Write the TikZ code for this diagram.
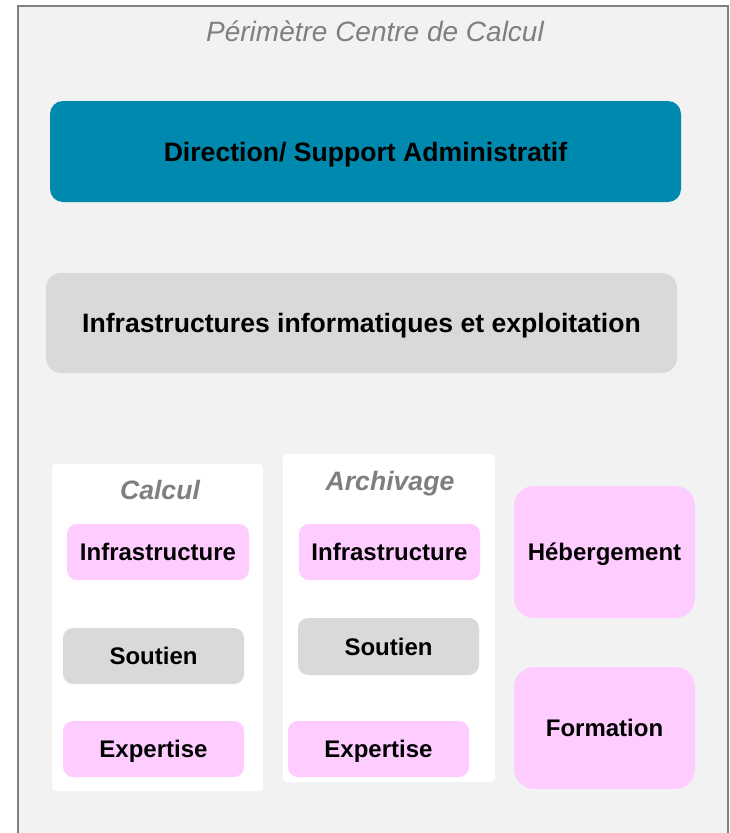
\documentclass[tikz,border=0pt]{standalone}
\usepackage{fontspec}
\setmainfont{Liberation Sans}
\definecolor{bgfill}{HTML}{F2F2F2}
\definecolor{bordergray}{HTML}{808080}
\definecolor{teal}{HTML}{0089AE}
\definecolor{lightgray}{HTML}{D9D9D9}
\definecolor{pinkfill}{HTML}{FFCCFF}
\definecolor{titlegray}{HTML}{7F7F7F}
\begin{document}
\begin{tikzpicture}[x=1pt,y=-1pt,
  base/.style={rectangle, inner sep=0pt, draw=none, text depth=0pt},
  bigbox/.style={base, font=\fontsize{26.6}{30}\selectfont\bfseries, text height=19pt, minimum width=631pt},
  smallbox/.style={base, font=\fontsize{24}{28}\selectfont\bfseries, text height=17.2pt, rounded corners=10pt, minimum width=181pt},
  pinkbox/.style={smallbox, fill=pinkfill},
  graybox/.style={smallbox, fill=lightgray},
  panel/.style={base, fill=white, rounded corners=4pt},
  paneltitle/.style={base, font=\fontsize{26.6}{30}\selectfont\bfseries\itshape, text height=19pt, text=titlegray},
]
\useasboundingbox (0,0) rectangle (730,833);
\clip (0,0) rectangle (730,833);
\draw[fill=bgfill, draw=bordergray, line width=1.5pt] (18,6) rectangle (728,860);
\node[base, font=\fontsize{28}{32}\selectfont\itshape, text height=20pt, text=titlegray] (title) at (375,31) {Périmètre Centre de Calcul};

\node[bigbox, fill=teal, rounded corners=13pt, minimum height=101pt] (dir) at (365.5,151.5) {Direction/ Support Administratif};
\node[bigbox, fill=lightgray, rounded corners=15pt, minimum height=100pt] (infra) at (361.5,323) {Infrastructures informatiques et exploitation};

\node[panel, minimum width=211pt, minimum height=327pt] (calcul) at (157.5,627.5) {};
\node[panel, minimum width=212pt, minimum height=328pt] (archivage) at (389,618) {};
\node[paneltitle] (calcult) at (160,490) {Calcul};
\node[paneltitle] (archt) at (390,481) {Archivage};

\node[pinkbox, minimum width=182pt, minimum height=56pt] (ci) at (158,552) {Infrastructure};
\node[graybox, minimum height=56pt] (cs) at (153.5,656) {Soutien};
\node[pinkbox, minimum height=56pt] (ce) at (153.5,749) {Expertise};

\node[pinkbox, minimum height=56pt] (ai) at (389.5,552) {Infrastructure};
\node[graybox, minimum height=57pt] (as) at (388.5,646.5) {Soutien};
\node[pinkbox, minimum height=56pt] (ae) at (378.5,749) {Expertise};

\node[pinkbox, rounded corners=20pt, minimum height=132pt] (heb) at (604.5,552) {Hébergement};
\node[pinkbox, rounded corners=20pt, minimum height=122pt] (form) at (604.5,728) {Formation};
\end{tikzpicture}
\end{document}
